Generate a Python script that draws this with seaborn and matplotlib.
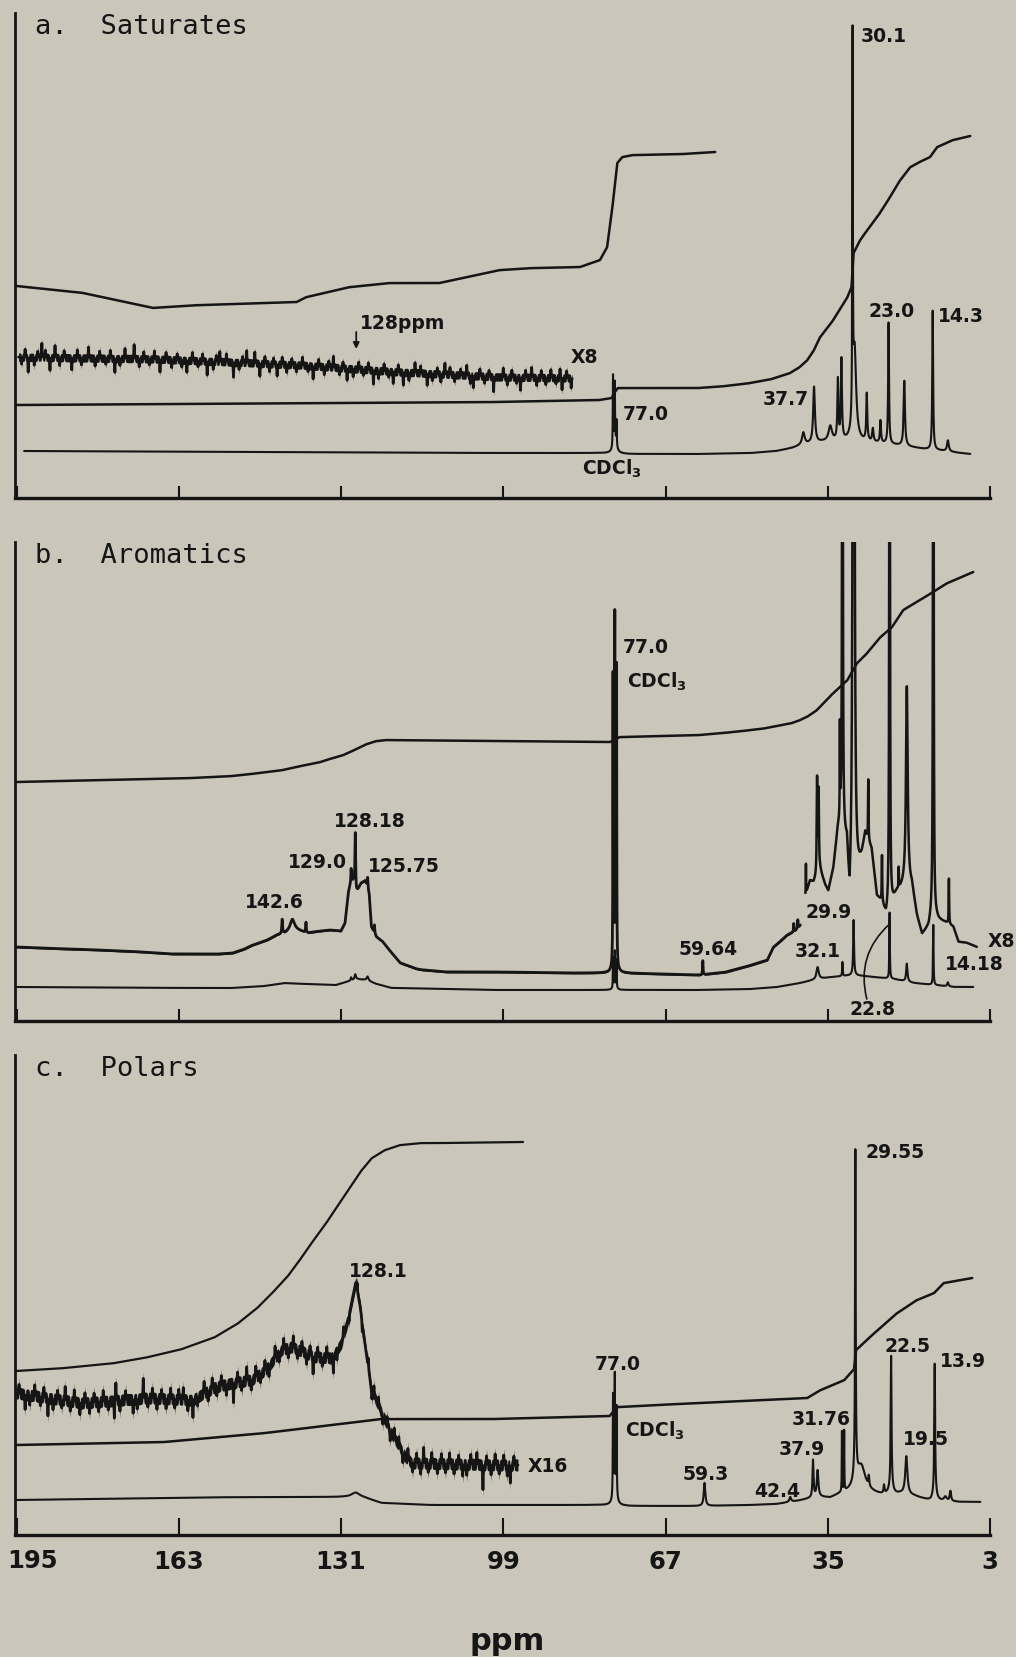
import numpy as np
import matplotlib
matplotlib.use("Agg")
import matplotlib.pyplot as plt
import seaborn as sns

sns.set_theme(style="white")
INK = "#151515"
PAPER = "#cbc6ba"
plt.rcParams.update({
    "font.family": ["DejaVu Sans"],
    "mathtext.fontset": "dejavusans",
    "mathtext.default": "bf",
    "axes.facecolor": PAPER,
    "figure.facecolor": PAPER,
    "savefig.facecolor": PAPER,
    "text.color": INK,
    "axes.edgecolor": INK,
    "xtick.color": INK,
})

# ---------------- 13C NMR traces (chemical shift in ppm, trace height in plot units) -------------
tick_ppm = [195, 163, 131, 99, 67, 35, 3]
tick_labels = ["195", "163", "131", "99", "67", "35", "3"]

# a. Saturates
a_int1_ppm = [195.0, 181.8, 168.0, 158.8, 139.7, 137.8, 129.2, 121.3, 111.5, 108.9, 99.6, 93.1,
              83.8, 79.9, 78.5, 77.3, 76.5, 75.5, 73.4, 63.5, 60.2, 57.2]
a_int1_val = [212, 205, 190, 193, 196, 201, 211, 215, 215, 218, 228, 230,
              231, 238, 251, 298, 335, 341, 343, 344, 345, 346]
a_int2_ppm = [195.0, 99.6, 79.9, 77.6, 77.0, 76.4, 60.2, 55.0, 50.2, 46.0, 42.4, 40.5, 39.0, 37.7,
              36.5, 33.9, 31.1, 30.3, 29.9, 28.6, 27.2, 24.7, 22.7, 20.7, 18.7, 16.5, 14.8, 13.4,
              10.3, 6.9]
a_int2_val = [93, 96, 98, 100, 106, 110, 110, 112, 115, 119, 125, 131, 138, 148,
              161, 178, 201, 211, 245, 258, 268, 285, 301, 318, 331, 337, 341, 351,
              358, 362]
a_x8_ppm = [194.6, 167.3, 139.1, 119.3, 99.6, 85.4]
a_x8_val = [141, 139, 133, 126, 121, 120]
a_x8_spike_ppm = [192.7, 190.0, 188.4, 187.4, 184.1, 180.8, 175.6, 173.6, 171.8, 166.7, 161.4, 157.4,
                  154.9, 152.2, 149.6, 148.0, 147.0, 143.6, 136.5, 132.5, 129.8, 124.6, 120.7, 118.7,
                  116.4, 114.0, 110.5, 106.2, 104.9, 100.9, 99.0, 95.6, 93.4, 87.8, 87.4, 85.6,
                  194.0, 193.3, 191.5, 190.8, 189.3, 186.5, 185.6, 183.0, 182.2, 179.5, 178.6, 177.4,
                  176.5, 174.6, 170.8, 169.9, 168.8, 167.8, 165.5, 164.4, 163.3, 162.4, 160.3, 159.2,
                  158.3, 156.2, 155.6, 153.6, 151.1, 150.4, 146.0, 145.1, 144.3, 142.6, 141.7, 140.7,
                  139.8, 138.6, 137.5, 135.4, 134.3, 133.4, 131.3, 130.6, 128.6, 127.5, 126.6, 125.6,
                  123.6, 122.5, 121.6, 119.7, 117.6, 115.3, 113.0, 112.0, 111.3, 109.5, 108.6, 107.4,
                  105.5, 103.6, 102.7, 101.8, 98.2, 97.3, 96.4, 94.6, 92.4, 91.5, 90.6, 89.6,
                  88.6, 86.5]
a_x8_spike_h = [-15, 14, -13, 12, -12, 11, -14, 10, 14, -13, -12, -14,
                10, -15, 12, 11, -13, -12, -13, 11, -12, -14, -12, -13,
                10, -12, 11, 10, -12, -15, 9, -13, 10, 9, -12, -10,
                -7, 8, -8, 6, 7, -8, 7, 8, -7, -8, 7, -6,
                8, -7, -8, 7, -6, 8, 7, -8, 6, -7, 8, -6,
                7, -8, 6, 8, -7, 6, 7, -8, 6, 7, -8, 6,
                -7, 8, -6, 7, -8, 6, -7, 6, -8, 7, -6, 7,
                -8, 7, -6, 7, -8, 7, -7, 6, -8, 7, -7, 6,
                -8, 7, -7, 6, -8, 7, -6, 7, -8, 7, -7, 8,
                -6, 7]
a_spec_ppm = [193.5, 150, 100, 80, 74, 60, 50, 45, 42, 40, 36, 30, 25, 20, 16, 12, 9, 6.9]
a_spec_val = [47, 46, 45, 45, 44, 44, 45, 47, 50, 53, 56, 57, 55, 52, 49, 47, 45, 44]
a_peak_ppm = [77.35, 77.0, 76.65, 77.0, 39.8, 37.7, 34.5, 33.0, 32.3, 30.1, 29.7, 27.3,
              26.1, 24.6, 23.0, 19.9, 14.3, 11.3]
a_peak_h = [70, 55, 25, 16, 12, 56, 15, 60, 80, 376, 90, 47, 13, 22, 121, 65, 139, 11]
a_peak_w = [0.05, 0.05, 0.05, 0.35, 0.3, 0.2, 0.4, 0.12, 0.12, 0.06, 0.35, 0.12,
            0.15, 0.12, 0.1, 0.15, 0.1, 0.2]

# b. Aromatics
b_int_ppm = [195.0, 160.0, 152.3, 147.0, 142.4, 138.0, 135.0, 132.6, 130.5, 129.2, 127.5, 125.9,
             124.0, 121.9, 99.6, 77.9, 76.0, 60.0, 53.6, 50.0, 46.9, 44.0, 42.0, 40.4, 38.8,
             37.1, 33.9, 31.1, 29.2, 27.2, 24.6, 22.3, 20.1, 16.8, 14.2, 11.4, 6.3]
b_int_val = [239, 243, 245, 248, 251, 256, 259, 263, 266, 269, 273, 277,
             280, 281, 280, 279, 284, 286, 289, 291, 293, 296, 298, 301, 305,
             311, 328, 341, 358, 368, 384, 394, 411, 421, 429, 438, 449]
b_x8l_ppm = [195.0, 185.0, 178.5, 170.0, 164.1, 155.0, 152.3, 150.0, 148.4, 145.5, 143.6, 142.0,
             140.5, 139.0, 137.5, 135.0, 133.0, 131.0, 130.2, 129.5, 129.0, 128.5, 128.0, 127.0,
             126.2, 125.4, 125.0, 124.0, 122.7, 121.0, 119.3, 116.0, 114.8, 110.0, 99.6, 85.0,
             78.0, 76.0, 60.2, 55.0, 53.6, 50.0, 46.9, 45.7, 44.5, 43.0, 41.5, 40.4]
b_x8l_val = [74, 72, 71, 69, 67, 67, 68, 72, 76, 81, 86, 88,
             92, 90, 88, 90, 91, 90, 98, 130, 140, 140, 128, 138,
             140, 125, 94, 84, 79, 68, 58, 52, 51, 49, 49, 48,
             48, 48, 46, 49, 51, 56, 61, 74, 79, 86, 90, 96]
b_x8l_peak_ppm = [142.6, 140.6, 137.9, 129.0, 128.18, 125.75, 124.4, 77.35, 77.0, 76.65, 77.0,
                  59.64, 41.7, 40.9]
b_x8l_peak_h = [14, 10, 10, 12, 56, 12, 8, 286, 331, 295, 25, 14, 8, 8]
b_x8l_peak_w = [0.08, 0.5, 0.06, 0.06, 0.08, 0.1, 0.06, 0.04, 0.04, 0.04, 0.3, 0.06, 0.05, 0.05]
b_x8r_ppm = [39.4, 38.5, 37.8, 36.5, 35.5, 34.9, 33.9, 33.0, 32.4, 31.2, 30.7, 28.3, 27.6, 26.3,
             25.3, 24.3, 23.5, 21.4, 20.0, 18.4, 17.4, 16.4, 15.1, 14.4, 13.1, 11.5, 10.2, 9.2,
             7.5, 5.6]
b_x8r_val = [125, 140, 138, 150, 135, 129, 151, 190, 195, 170, 105, 161, 185, 170,
             124, 118, 104, 128, 134, 134, 104, 86, 94, 108, 101, 98, 94, 79,
             78, 74]
b_x8r_peak_ppm = [39.3, 37.1, 36.8, 32.6, 32.1, 29.9, 27.0, 24.3, 22.8, 21.0, 19.4, 14.18, 11.1]
b_x8r_peak_h = [30, 95, 80, 90, 1500, 2500, 60, 45, 1500, 20, 200, 1500, 45]
b_x8r_peak_w = [0.03, 0.08, 0.08, 0.04, 0.05, 0.1, 0.05, 0.05, 0.05, 0.04, 0.2, 0.05, 0.05]
b_spec_ppm = [195.0, 160.0, 152.3, 146.0, 142.0, 138.0, 132.0, 130.0, 128.0, 126.0, 124.0, 121.0,
              100.0, 80.0, 74.0, 60.0, 50.0, 45.0, 40.4, 37.0, 34.0, 30.0, 26.0, 22.0, 18.0,
              14.0, 10.0, 6.3]
b_spec_val = [34, 33, 33, 35, 38, 37, 36, 39, 42, 41, 37, 33,
              31, 31, 31, 31, 32, 34, 38, 42, 44, 46, 44, 42, 38,
              36, 34, 34]
b_peak_ppm = [129.0, 128.18, 125.75, 77.35, 77.0, 76.65, 77.0, 37.0, 32.1, 29.9, 22.8, 19.4, 14.18, 11.3]
b_peak_h = [3, 5, 4, 30, 33, 28, 6, 12, 14, 55, 66, 18, 60, 4]
b_peak_w = [0.1, 0.15, 0.2, 0.04, 0.04, 0.04, 0.3, 0.25, 0.06, 0.1, 0.06, 0.15, 0.06, 0.15]

# c. Polars
c_int1_ppm = [195.1, 185.3, 175.5, 168.9, 162.3, 155.8, 151.2, 147.3, 144.0, 141.3, 138.7, 136.1,
              133.5, 130.9, 128.9, 126.9, 124.9, 122.3, 119.3, 115.0, 109.1, 95.1]
c_int1_val = [164, 167, 172, 178, 186, 198, 212, 228, 245, 260, 278, 297,
              315, 335, 350, 365, 377, 385, 390, 392, 392, 393]
c_x16_ppm = [195.1, 182.1, 168.9, 160.4, 155.7, 152.6, 148.6, 145.9, 142.7, 140.8, 136.0, 132.9,
             130.9, 129.9, 129.1, 128.1, 127.2, 126.2, 125.0, 123.0, 121.1, 118.3, 117.1, 100.0, 96.1]
c_x16_val = [142, 132, 137, 135, 148, 152, 155, 165, 185, 188, 178, 177,
             192, 210, 228, 252, 228, 188, 145, 122, 102, 78, 72, 70, 70]
c_x16_spike_ppm = [193.3, 188.8, 185.4, 182.5, 175.7, 175.4, 172.0, 170.0, 162.1, 160.2, 158.0,
                   152.2, 149.6, 144.0, 140.4, 136.5, 132.5, 124.5, 120.5, 114.7, 112.0, 107.0,
                   104.2, 103.0, 97.6,
                   194.5, 192.4, 191.4, 190.3, 189.6, 187.8, 186.9, 186.1, 184.4, 183.6, 181.5, 180.6,
                   179.7, 178.8, 177.9, 176.9, 174.6, 173.5, 171.2, 169.1, 168.2, 167.3, 166.4, 165.5,
                   164.6, 163.8, 163.0, 161.2, 159.3, 157.2, 156.4, 155.5, 154.6, 153.6, 151.4, 150.6,
                   148.7, 147.8, 146.9, 146.0, 145.2, 143.2, 142.3, 141.4, 139.6, 138.7, 137.8, 137.1,
                   135.6, 134.7, 133.8, 131.8, 130.5, 129.4, 127.8, 126.8, 125.6, 124.9, 123.6, 122.8,
                   121.9, 121.3, 119.6, 118.8, 117.8, 116.9, 116.1, 115.3, 113.8, 113.1, 111.2, 110.4,
                   109.6, 108.7, 107.8, 106.2, 105.4, 102.3, 101.4, 100.6, 99.8, 98.9, 98.2, 96.9]
c_x16_spike_h = [-15, -18, 14, -12, -18, 18, -14, 20, 12, -18, 12,
                 -20, 14, 12, 12, -18, -18, 10, 10, 16, -10, -12,
                 12, -25, -18,
                 9, -10, 11, -9, 10, -11, 9, -8, -10, 12, 10, -11,
                 9, -10, 11, -9, -11, 9, -10, -9, 10, -11, 9, -10,
                 11, -9, 10, -11, -9, -10, 11, -9, 10, -11, 10, -9,
                 -10, 11, -9, 10, -11, -9, 11, -10, -9, 10, -11, 9,
                 10, -9, 11, -10, 9, -8, 8, -9, 10, -8, 9, -9,
                 8, -10, 9, -10, 11, -9, 10, -11, -9, 11, 10, -9,
                 11, -10, 9, -11, 10, 9, -10, 11, -9, 10, -11, 9]
c_int2_ppm = [195.0, 165.6, 145.9, 132.9, 123.0, 100.0, 78.0, 77.2, 76.4, 60.6, 39.0, 36.4, 31.7,
              29.8, 29.4, 25.8, 21.3, 17.4, 14.0, 12.1, 6.5]
c_int2_val = [90, 93, 102, 110, 116, 116, 119, 124, 128, 132, 137, 145, 155,
              166, 185, 202, 222, 235, 242, 252, 257]
c_spec_ppm = [195.1, 165.6, 150.0, 142.7, 136.1, 130.2, 126.3, 123.0, 113.2, 100.0, 80.0, 74.0,
              60.0, 50.0, 45.0, 41.0, 39.0, 37.0, 34.5, 32.5, 31.0, 29.5, 27.0, 24.5, 22.0, 20.6,
              18.0, 16.0, 14.7, 12.0, 9.0, 8.2, 4.9]
c_spec_val = [35, 37, 38, 38, 38, 38, 37, 32, 30, 30, 30, 29,
              29, 30, 31, 34, 36, 38, 37, 41, 43, 45, 42, 40, 40, 41,
              39, 36, 34, 34, 33, 33, 33]
c_peak_ppm = [128.1, 77.35, 77.0, 76.65, 77.0, 59.3, 42.4, 37.9, 37.0, 32.2, 31.76, 29.55, 29.55,
              28.4, 26.9, 23.9, 22.5, 22.5, 19.5, 13.9, 13.9, 11.8, 10.8]
c_peak_h = [5, 100, 110, 88, 20, 23, 5, 37, 26, 60, 60, 310, 20,
            25, 10, 8, 128, 10, 38, 125, 12, 4, 10]
c_peak_w = [1.0, 0.05, 0.05, 0.05, 0.35, 0.18, 0.2, 0.12, 0.18, 0.04, 0.04, 0.07, 0.3,
            1.0, 0.1, 0.1, 0.09, 0.4, 0.25, 0.09, 0.35, 0.3, 0.15]

# peak annotations: (text, ppm, height, horizontal alignment)
a_labels = [("30.1", 28.6, 456, "left"), ("23.0", 22.5, 181, "center"), ("14.3", 13.2, 176, "left"),
            ("37.7", 38.8, 93, "right"), ("77.0", 75.4, 78, "left"), ("CDCl$_3$", 77.6, 23, "center"),
            ("X8", 85.8, 135, "left"), ("128ppm", 127.2, 169, "left")]
b_labels = [("77.0", 75.5, 368, "left"), ("CDCl$_3$", 74.5, 333, "left"), ("128.18", 125.4, 194, "center"),
            ("129.0", 129.8, 153, "right"), ("125.75", 125.6, 149, "left"), ("142.6", 144.2, 113, "center"),
            ("29.9", 30.2, 103, "right"), ("59.64", 58.5, 66, "center"), ("32.1", 32.4, 64, "right"),
            ("X8", 3.5, 74, "left"), ("14.18", 11.8, 51, "left"), ("22.8", 26.1, 6, "center")]
c_labels = [("77.0", 76.4, 165, "center"), ("CDCl$_3$", 75.0, 98, "left"), ("59.3", 59.1, 55, "center"),
            ("42.4", 40.4, 38, "right"), ("37.9", 35.5, 80, "right"), ("31.76", 30.5, 110, "right"),
            ("29.55", 27.6, 377, "left"), ("22.5", 23.9, 183, "left"), ("13.9", 12.8, 168, "left"),
            ("19.5", 15.6, 90, "center"), ("X16", 94.1, 63, "left"), ("128.1", 129.5, 258, "left")]
titles = ["a.  Saturates", "b.  Aromatics", "c.  Polars"]


def spectrum(base_ppm, base_val, peak_ppm=(), peak_h=(), peak_w=(), step=0.01):
    """Baseline through the read points plus Lorentzian lines."""
    bp = np.asarray(base_ppm, float)
    bv = np.asarray(base_val, float)
    lo, hi = bp.min(), bp.max()
    x = np.arange(lo, hi + step / 2, step)
    pk = np.asarray(peak_ppm, float)
    if pk.size:
        x = np.union1d(x, pk[(pk >= lo) & (pk <= hi)])
    order = np.argsort(bp)
    y = np.interp(x, bp[order], bv[order])
    for p, h, w in zip(peak_ppm, peak_h, peak_w):
        y = y + h * w * w / ((x - p) ** 2 + w * w)
    return x, y


def trace(ax, x, y, lw):
    sns.lineplot(x=x, y=y, ax=ax, color=INK, linewidth=lw, estimator=None, sort=False,
                 errorbar=None)


def noisy(ax, x, y, half, lw):
    ax.fill_between(x, y - half, y + half, color=INK, linewidth=0)
    trace(ax, x, y, lw)


W, H = 1016, 1657
fig = plt.figure(figsize=(W / 100, H / 100), dpi=100)


def panel(top, bottom):
    ax = fig.add_axes([15 / W, 1 - bottom / H, 975 / W, (bottom - top) / H])
    ax.set_xlim(195.3, 3.0)
    ax.set_ylim(0, bottom - top)
    return ax


ax_a = panel(13, 498)
ax_b = panel(542, 1021)
ax_c = panel(1055, 1535)

# ---- a. Saturates
trace(ax_a, *spectrum(a_int1_ppm, a_int1_val), 1.8)
trace(ax_a, *spectrum(a_int2_ppm, a_int2_val), 1.8)
noisy(ax_a, *spectrum(a_x8_ppm, a_x8_val, a_x8_spike_ppm, a_x8_spike_h, [0.05] * len(a_x8_spike_h)),
      4.2, 2.0)
trace(ax_a, *spectrum(a_spec_ppm, a_spec_val, a_peak_ppm, a_peak_h, a_peak_w), 1.5)
ax_a.annotate("", xy=(128, 149), xytext=(128, 166),
              arrowprops=dict(arrowstyle="-|>", color=INK, lw=1.3, mutation_scale=9,
                              shrinkA=0, shrinkB=0))

# ---- b. Aromatics
trace(ax_b, *spectrum(b_int_ppm, b_int_val), 1.8)
noisy(ax_b, *spectrum(b_x8l_ppm, b_x8l_val, b_x8l_peak_ppm, b_x8l_peak_h, b_x8l_peak_w), 1.0, 2.0)
trace(ax_b, *spectrum(b_x8r_ppm, b_x8r_val, b_x8r_peak_ppm, b_x8r_peak_h, b_x8r_peak_w), 1.8)
trace(ax_b, *spectrum(b_spec_ppm, b_spec_val, b_peak_ppm, b_peak_h, b_peak_w), 1.5)
ax_b.annotate("", xy=(22.8, 97), xytext=(27.3, 22),
              arrowprops=dict(arrowstyle="-", color=INK, lw=1.2, shrinkA=0, shrinkB=0,
                              connectionstyle="arc3,rad=-0.3"))

# ---- c. Polars
trace(ax_c, *spectrum(c_int1_ppm, c_int1_val), 1.6)
trace(ax_c, *spectrum(c_int2_ppm, c_int2_val), 1.8)
noisy(ax_c, *spectrum(c_x16_ppm, c_x16_val, c_x16_spike_ppm, c_x16_spike_h,
                      [0.05] * len(c_x16_spike_h)), 6.0, 2.0)
trace(ax_c, *spectrum(c_spec_ppm, c_spec_val, c_peak_ppm, c_peak_h, c_peak_w), 1.5)

for ax, labels, title in zip((ax_a, ax_b, ax_c), (a_labels, b_labels, c_labels), titles):
    for s, p, v, ha in labels:
        ax.text(p, v, s, ha=ha, va="baseline", fontsize=13.5, fontweight="bold", color=INK)
    top = ax.get_ylim()[1]
    ax.text(191.4, top - 21, title, ha="left", va="baseline", fontsize=19.5,
            family="DejaVu Sans Mono", color=INK)
    ax.set_xlabel("")
    ax.set_ylabel("")
    ax.set_yticks([])
    for side in ("top", "right"):
        ax.spines[side].set_visible(False)
    ax.spines["left"].set_linewidth(2.0)
    ax.spines["bottom"].set_linewidth(2.4)
    ax.set_xticks(tick_ppm)
    ax.set_xticks([3], minor=True)
    ax.tick_params(axis="x", which="major", direction="in", length=9, width=1.5, pad=11,
                   labelsize=17.5, bottom=True)
    ax.tick_params(axis="x", which="minor", direction="in", length=15, width=1.5, bottom=True)
    ax.set_xticklabels([])

# ppm scale under the last panel; the first number sits just inside the left edge
ax_c.set_xticklabels([""] + tick_labels[1:], fontweight="bold")
ax_c.tick_params(axis="x", which="both", length=12)
ax_c.text(191.9, -26, tick_labels[0], ha="center", va="center", fontsize=17.5,
          fontweight="bold", color=INK)

fig.text(507 / W, 1 - 1641 / H, "ppm", ha="center", va="center", fontsize=22, fontweight="bold",
         color=INK)

fig.savefig("out.png", dpi=100)
